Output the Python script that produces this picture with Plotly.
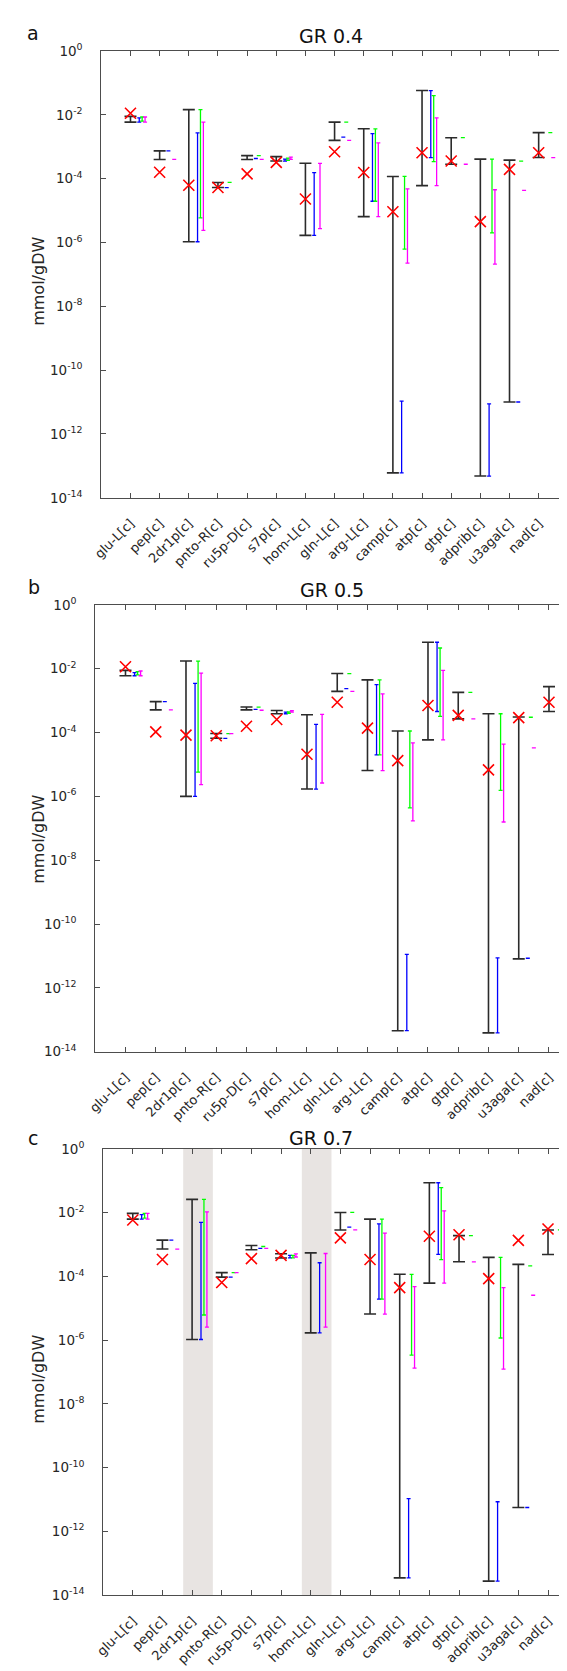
import plotly.graph_objects as go

# ---------------- data ----------------
categories = ["glu-L[c]", "pep[c]", "2dr1p[c]", "pnto-R[c]", "ru5p-D[c]", "s7p[c]", "hom-L[c]",
              "gln-L[c]", "arg-L[c]", "camp[c]", "atp[c]", "gtp[c]", "adprib[c]", "u3aga[c]", "nad[c]"]
panel_titles = ["GR 0.4", "GR 0.5", "GR 0.7"]
panel_letters = ["a", "b", "c"]
y_label = "mmol/gDW"
y_tick_exponents = [-14, -12, -10, -8, -6, -4, -2, 0]
highlighted_c = ["2dr1p[c]", "hom-L[c]"]
N = None

# ---- panel a (GR 0.4) ----
a_black_lo = [5.89e-3, 3.98e-4, 1.05e-6, 5.25e-5, 3.98e-4, 3.55e-4, 1.66e-6, 1.58e-3, 6.46e-6, 6.03e-14, 6.03e-5, 2.82e-4, 4.79e-14, 1.0e-11, 4.57e-4]
a_black_hi = [8.91e-3, 7.41e-4, 1.45e-2, 7.59e-5, 5.25e-4, 4.90e-4, 3.02e-4, 5.89e-3, 3.63e-3, 1.17e-4, 5.75e-2, 1.91e-3, 4.07e-4, 3.80e-4, 2.75e-3]
a_blue_lo = [5.89e-3, 7.41e-4, 1.05e-6, 5.25e-5, 4.27e-4, 3.55e-4, 1.66e-6, 2.00e-3, 1.95e-5, 6.03e-14, 4.57e-4, N, 4.79e-14, 1.0e-11, N]
a_blue_hi = [7.94e-3, 7.41e-4, 2.69e-3, 5.25e-5, 4.27e-4, 4.07e-4, 1.55e-4, 2.00e-3, 2.57e-3, 1.07e-11, 5.75e-2, N, 8.71e-12, 1.0e-11, N]
a_green_lo = [6.31e-3, N, 5.89e-6, 7.59e-5, 5.25e-4, 3.72e-4, N, 5.89e-3, 1.95e-5, 6.17e-7, 3.39e-4, 1.91e-3, 2.00e-6, 3.55e-4, 2.75e-3]
a_green_hi = [8.51e-3, N, 1.45e-2, 7.59e-5, 5.25e-4, 4.37e-4, N, 5.89e-3, 3.63e-3, 1.17e-4, 3.98e-2, 1.91e-3, 4.07e-4, 3.55e-4, 2.75e-3]
a_magenta_lo = [5.89e-3, 3.98e-4, 2.40e-6, N, 3.98e-4, 3.98e-4, 2.69e-6, 1.58e-3, 6.46e-6, 2.24e-7, 6.03e-5, 2.82e-4, 2.09e-7, 4.27e-5, 4.57e-4]
a_magenta_hi = [8.51e-3, 3.98e-4, 5.89e-3, N, 3.98e-4, 4.68e-4, 3.02e-4, 1.58e-3, 1.32e-3, 4.79e-5, 7.94e-3, 2.82e-4, 4.47e-5, 4.27e-5, 4.57e-4]
a_red = [1.12e-2, 1.58e-4, 6.17e-5, 5.25e-5, 1.41e-4, 3.24e-4, 2.29e-5, 6.92e-4, 1.55e-4, 9.12e-6, 6.46e-4, 3.55e-4, 4.47e-6, 1.95e-4, 6.46e-4]

# ---- panel b (GR 0.5) ----
b_black_lo = [6.03e-3, 5.13e-4, 1.0e-6, 6.61e-5, 5.13e-4, 3.89e-4, 1.70e-6, 1.95e-3, 6.46e-6, 4.57e-14, 5.89e-5, 2.69e-4, 3.89e-14, 8.13e-12, 4.57e-4]
b_black_hi = [8.91e-3, 9.33e-4, 1.74e-2, 9.33e-5, 6.31e-4, 4.90e-4, 3.63e-4, 7.08e-3, 4.47e-3, 1.12e-4, 6.76e-2, 1.82e-3, 3.89e-4, 3.09e-4, 2.75e-3]
b_blue_lo = [6.03e-3, 9.33e-4, 1.0e-6, 6.61e-5, 5.37e-4, 3.89e-4, 1.70e-6, 2.40e-3, 2.00e-5, 4.57e-14, 4.57e-4, N, 3.89e-14, 8.51e-12, N]
b_blue_hi = [7.59e-3, 9.33e-4, 3.47e-3, 6.61e-5, 5.37e-4, 4.37e-4, 1.82e-4, 2.40e-3, 3.16e-3, 1.12e-11, 6.76e-2, N, 8.71e-12, 8.51e-12, N]
b_green_lo = [6.46e-3, N, 5.75e-6, 9.33e-5, 6.31e-4, 3.98e-4, N, 7.08e-3, 2.00e-5, 4.37e-7, 3.24e-4, 1.82e-3, 1.55e-6, 3.02e-4, 2.75e-3]
b_green_hi = [8.13e-3, N, 1.74e-2, 9.33e-5, 6.31e-4, 4.47e-4, N, 7.08e-3, 4.47e-3, 1.12e-4, 4.47e-2, 1.82e-3, 3.89e-4, 3.02e-4, 2.75e-3]
b_magenta_lo = [6.03e-3, 5.13e-4, 2.34e-6, 9.33e-5, 5.01e-4, 4.37e-4, 2.63e-6, 1.95e-3, 6.46e-6, 1.70e-7, 5.89e-5, 2.69e-4, 1.58e-7, 3.31e-5, 4.57e-4]
b_magenta_hi = [8.51e-3, 5.13e-4, 7.24e-3, 9.33e-5, 5.01e-4, 4.90e-4, 3.72e-4, 1.95e-3, 1.62e-3, 4.79e-5, 8.91e-3, 2.69e-4, 4.37e-5, 3.31e-5, 4.57e-4]
b_red = [1.15e-2, 1.05e-4, 8.32e-5, 7.94e-5, 1.58e-4, 2.57e-4, 2.09e-5, 8.91e-4, 1.38e-4, 1.32e-5, 7.08e-4, 3.47e-4, 6.76e-6, 2.95e-4, 8.91e-4]

# ---- panel c (GR 0.7) ----
c_black_lo = [6.31e-3, 7.24e-4, 1.05e-6, 9.55e-5, 6.92e-4, 3.80e-4, 1.70e-6, 2.88e-3, 6.61e-6, 3.47e-14, 6.17e-5, 2.88e-4, 2.75e-14, 5.62e-12, 4.90e-4]
c_black_hi = [9.55e-3, 1.38e-3, 2.63e-2, 1.32e-4, 9.33e-4, 5.13e-4, 5.50e-4, 1.02e-2, 6.31e-3, 1.17e-4, 8.71e-2, 1.91e-3, 3.98e-4, 2.40e-4, 2.88e-3]
c_blue_lo = [6.31e-3, 1.38e-3, 1.05e-6, 9.55e-5, 7.59e-4, 3.80e-4, 1.70e-6, 3.55e-3, 1.95e-5, 3.47e-14, 4.90e-4, N, 2.75e-14, 5.62e-12, N]
c_blue_hi = [8.71e-3, 1.38e-3, 5.01e-3, 9.55e-5, 7.59e-4, 4.57e-4, 2.69e-4, 3.55e-3, 4.47e-3, 1.07e-11, 8.71e-2, N, 8.51e-12, 5.62e-12, N]
c_green_lo = [6.76e-3, N, 6.17e-6, 1.32e-4, 8.71e-4, 3.80e-4, N, 1.02e-2, 1.95e-5, 3.39e-7, 3.39e-4, 1.91e-3, 1.17e-6, 2.14e-4, 2.88e-3]
c_green_hi = [9.55e-3, N, 2.63e-2, 1.32e-4, 8.71e-4, 4.57e-4, N, 1.02e-2, 6.31e-3, 1.17e-4, 6.17e-2, 1.91e-3, 3.98e-4, 2.14e-4, 2.88e-3]
c_magenta_lo = [6.31e-3, 7.24e-4, 2.57e-6, 1.32e-4, 7.59e-4, 4.07e-4, 2.57e-6, 2.88e-3, 6.61e-6, 1.32e-7, 6.17e-5, 2.88e-4, 1.23e-7, 2.57e-5, 4.90e-4]
c_magenta_hi = [9.55e-3, 7.24e-4, 1.07e-2, 1.32e-4, 7.59e-4, 5.13e-4, 5.25e-4, 2.88e-3, 2.29e-3, 4.79e-5, 1.15e-2, 2.88e-4, 4.47e-5, 2.57e-5, 4.90e-4]
c_red = [5.89e-3, 3.39e-4, N, 6.46e-5, 3.63e-4, 4.57e-4, N, 1.62e-3, 3.39e-4, 4.47e-5, 1.82e-3, 2.04e-3, 8.51e-5, 1.35e-3, 3.09e-3]

# ---------------- styling / layout ----------------
W, H = 567, 1671
FONT = "DejaVu Sans"
TXT = "#262626"
AXC = "#4d4d4d"

series_style = [  # (name, colour, x offset, thickness, cap half-width)
    ("black", "#2b2b2b", 0.0, 1.6, 6),
    ("blue", "#0000ff", 0.3, 1.3, 2),
    ("green", "#00ff00", 0.4, 1.3, 2),
    ("magenta", "#ff00ff", 0.5, 1.3, 2),
]

panels = [
    dict(data=dict(black=(a_black_lo, a_black_hi), blue=(a_blue_lo, a_blue_hi),
                   green=(a_green_lo, a_green_hi), magenta=(a_magenta_lo, a_magenta_hi)), red=a_red,
         px=(85.7, 559.7), xr=[0, 16], py=(33.3, 485.0), title_xy=(319, 18), letter_xy=(16.5, 15),
         ylab_xy=(21, 266), highlight=[], right_line=True),
    dict(data=dict(black=(b_black_lo, b_black_hi), blue=(b_blue_lo, b_blue_hi),
                   green=(b_green_lo, b_green_hi), magenta=(b_magenta_lo, b_magenta_hi)), red=b_red,
         px=(79.5, 567.0), xr=[0, 15.86], py=(593.3, 1045.0), title_xy=(320, 578), letter_xy=(17, 575),
         ylab_xy=(21, 830), highlight=[], right_line=False),
    dict(data=dict(black=(c_black_lo, c_black_hi), blue=(c_blue_lo, c_blue_hi),
                   green=(c_green_lo, c_green_hi), magenta=(c_magenta_lo, c_magenta_hi)), red=c_red,
         px=(87.5, 567.0), xr=[0, 15.91], py=(1143.3, 1594.3), title_xy=(309, 1132), letter_xy=(16.5, 1132),
         ylab_xy=(22, 1376), highlight=highlighted_c, right_line=False),
]

fig = go.Figure()
annotations = []
shapes = []
xpos = list(range(1, len(categories) + 1))
tickvals_y = [10.0 ** e for e in y_tick_exponents]
ticktext_y = ["10<sup>%d</sup>" % e for e in y_tick_exponents]
extra_axis = 4

for k, p in enumerate(panels):
    sx = "" if k == 0 else str(k + 1)
    xa, ya = "x" + sx, "y" + sx
    for name, col, off, thick, wid in series_style:
        lo, hi = p["data"][name]
        xs, mids, up, dn = [], [], [], []
        for i, (l, h) in enumerate(zip(lo, hi)):
            if l is None or h is None:
                continue
            m = (l * h) ** 0.5
            xs.append(xpos[i] + off)
            mids.append(m)
            up.append(h - m)
            dn.append(m - l)
        fig.add_trace(go.Scatter(
            x=xs, y=mids, mode="markers", xaxis=xa, yaxis=ya,
            marker=dict(size=2, opacity=0, color=col),
            error_y=dict(type="data", symmetric=False, array=up, arrayminus=dn,
                         color=col, thickness=thick, width=wid),
            showlegend=False, hoverinfo="skip"))
    rx = [xpos[i] for i, v in enumerate(p["red"]) if v is not None]
    ry = [v for v in p["red"] if v is not None]
    fig.add_trace(go.Scatter(
        x=rx, y=ry, mode="markers", xaxis=xa, yaxis=ya,
        marker=dict(symbol="x-thin", size=11, color="#ff0000",
                    line=dict(color="#ff0000", width=1.6)),
        showlegend=False, hoverinfo="skip"))

    x0, x1 = p["px"]
    ytop, ybot = p["py"]
    xdom = [x0 / W, min(1.0, x1 / W)]
    ydom = [1 - ybot / H, 1 - ytop / H]
    fig.layout["xaxis" + sx] = dict(
        domain=xdom, range=p["xr"], anchor=ya, tickmode="array", tickvals=xpos,
        ticktext=categories, tickangle=-45, ticks="inside", ticklen=5, tickwidth=1,
        tickcolor=AXC, showline=True, linecolor=AXC, linewidth=1, mirror="ticks",
        showgrid=False, zeroline=False, ticklabelstandoff=12,
        tickfont=dict(family=FONT, size=13, color=TXT))
    fig.layout["yaxis" + sx] = dict(
        domain=ydom, type="log", range=[-14, 0], anchor=xa, tickmode="array",
        tickvals=tickvals_y, ticktext=ticktext_y, ticks="inside", ticklen=5, tickwidth=1,
        tickcolor=AXC, showline=True, linecolor=AXC, linewidth=1,
        mirror="ticks" if p["right_line"] else False,
        showgrid=False, zeroline=False, ticklabelstandoff=15,
        tickfont=dict(family=FONT, size=13.5, color=TXT))
    if not p["right_line"]:
        # right-hand ticks only (the right box edge lies just outside the picture)
        ex = "y" + str(extra_axis)
        fig.layout["yaxis" + str(extra_axis)] = dict(
            domain=ydom, type="log", range=[-14, 0], anchor=xa, overlaying=ya, side="right",
            tickmode="array", tickvals=tickvals_y, ticks="inside", ticklen=5, tickwidth=1,
            tickcolor=AXC, showline=False, showticklabels=False, showgrid=False, zeroline=False)
        fig.add_trace(go.Scatter(x=[None], y=[None], xaxis=xa, yaxis=ex, mode="markers",
                                 showlegend=False, hoverinfo="skip"))
        extra_axis += 1

    tx, ty = p["title_xy"]
    annotations.append(dict(text=panel_titles[k], x=tx / W, y=1 - ty / H, xref="paper", yref="paper",
                            xanchor="center", yanchor="middle", showarrow=False,
                            font=dict(family=FONT, size=19, color="#111111")))
    lx, ly = p["letter_xy"]
    annotations.append(dict(text=panel_letters[k], x=lx / W, y=1 - ly / H, xref="paper", yref="paper",
                            xanchor="center", yanchor="middle", showarrow=False,
                            font=dict(family=FONT, size=19, color="#111111")))
    yx, yy = p["ylab_xy"]
    annotations.append(dict(text=y_label, x=yx / W, y=1 - yy / H, xref="paper", yref="paper",
                            xanchor="center", yanchor="middle", showarrow=False, textangle=-90,
                            font=dict(family=FONT, size=16, color=TXT)))
    for cat in p["highlight"]:
        i = categories.index(cat) + 1
        shapes.append(dict(type="rect", xref=xa, yref=ya + " domain", x0=i - 0.3, x1=i + 0.7,
                           y0=0, y1=1, fillcolor="#e8e4e2", line=dict(width=0), layer="below"))

fig.update_layout(width=W, height=H, margin=dict(l=0, r=0, t=0, b=0),
                  paper_bgcolor="white", plot_bgcolor="white",
                  annotations=annotations, shapes=shapes, showlegend=False)
fig.write_html("out.html")
